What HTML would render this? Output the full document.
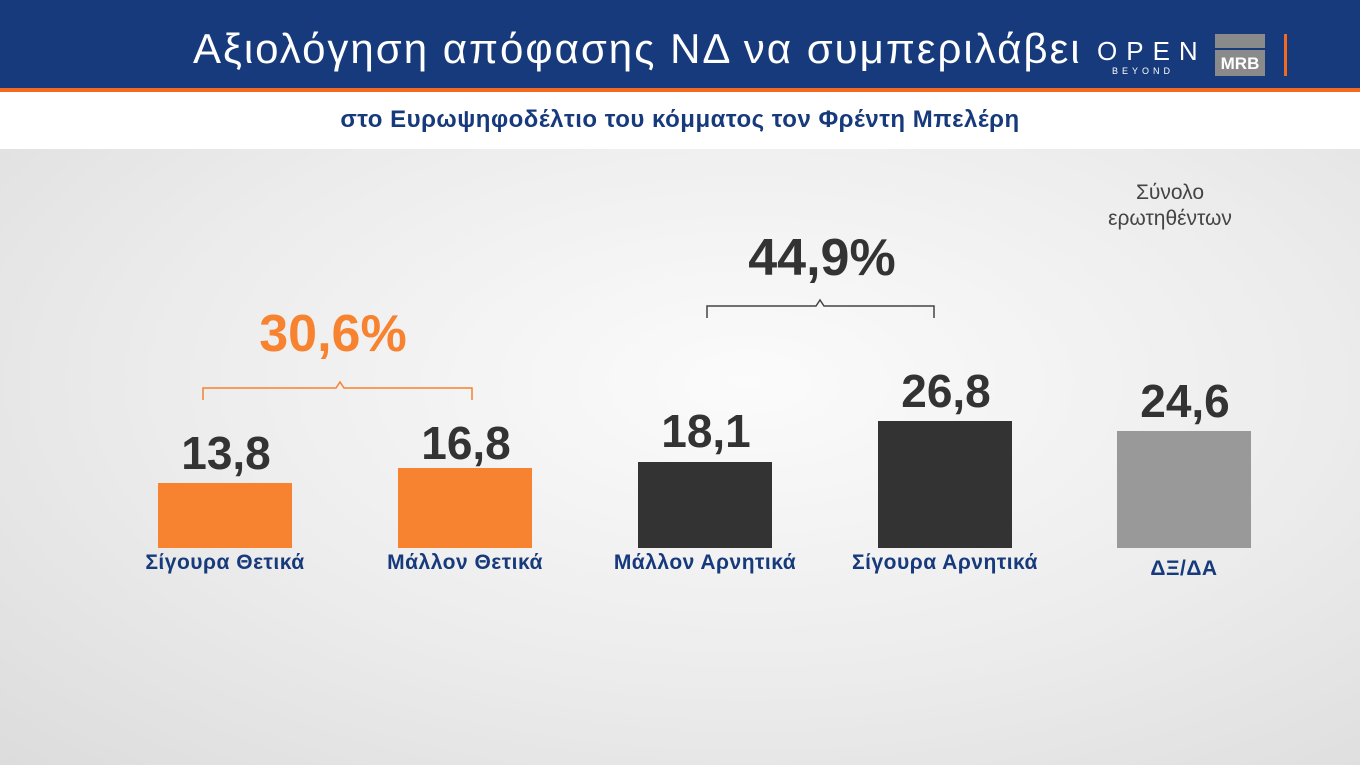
<!DOCTYPE html>
<html><head><meta charset="utf-8"><style>
*{margin:0;padding:0;box-sizing:border-box}
body{width:1360px;height:765px;overflow:hidden;position:relative;font-family:"Liberation Sans","DejaVu Sans",sans-serif;background:radial-gradient(ellipse at 55% 50%,#fbfbfb 0%,#ececec 55%,#dcdcdc 100%)}
.hdr{position:absolute;left:0;top:0;width:1360px;height:88px;background:#173a7c}
.or{position:absolute;left:0;top:88px;width:1360px;height:4px;background:#f26a22}
.sub{position:absolute;left:0;top:92px;width:1360px;height:57px;background:#fff;text-align:center;color:#173a7c;font-weight:bold;font-size:24px;letter-spacing:0.5px;line-height:55px}
.t{position:absolute;color:#fff;font-size:42px;letter-spacing:2px;left:193px;top:25px;white-space:nowrap}
.abs{position:absolute}
.bar{position:absolute}
.val{position:absolute;font-weight:bold;font-size:46px;color:#333;text-align:center;width:200px}
.lab{position:absolute;font-weight:bold;font-size:21px;letter-spacing:0.5px;color:#173a7c;text-align:center;width:260px}
</style></head><body>
<div class="hdr"></div><div class="or"></div>
<div class="t">Αξιολόγηση απόφασης ΝΔ να συμπεριλάβει</div>
<div class="abs" style="left:1097px;top:36px;color:#fff;font-size:26px;letter-spacing:9px">OPEN</div>
<div class="abs" style="left:1112px;top:66px;color:#fff;font-size:9px;letter-spacing:4px">BEYOND</div>
<div class="abs" style="left:1215px;top:34px;width:50px;height:14px;background:#8a8a8a"></div>
<div class="abs" style="left:1215px;top:50px;width:50px;height:26px;background:#8a8a8a;color:#fff;font-weight:bold;font-size:17px;text-align:center;line-height:27px">MRB</div>
<div class="abs" style="left:1284px;top:34px;width:3px;height:42px;background:#f26a22"></div>
<div class="sub">στο Ευρωψηφοδέλτιο του κόμματος τον Φρέντη Μπελέρη</div>

<div class="abs" style="left:1100px;top:180px;width:140px;text-align:center;color:#444;font-size:21px;line-height:26px">Σύνολο<br>ερωτηθέντων</div>

<div class="abs" style="left:213px;top:304px;width:240px;text-align:center;color:#f7822f;font-weight:bold;font-size:52px">30,6%</div>
<svg class="abs" style="left:0;top:0" width="1360" height="765"><path d="M203 400 V388 H336 l4 -6 l4 6 H472 V400" fill="none" stroke="#f7822f" stroke-width="1.5"/><path d="M707 318 V306 H816 l4 -6 l4 6 H934 V318" fill="none" stroke="#444" stroke-width="1.5"/></svg>
<div class="abs" style="left:702px;top:228px;width:240px;text-align:center;color:#333;font-weight:bold;font-size:52px">44,9%</div>

<div class="bar" style="left:158px;top:483px;width:134px;height:65px;background:#f7822f"></div>
<div class="bar" style="left:398px;top:468px;width:134px;height:80px;background:#f7822f"></div>
<div class="bar" style="left:638px;top:462px;width:134px;height:86px;background:#333"></div>
<div class="bar" style="left:878px;top:421px;width:134px;height:127px;background:#333"></div>
<div class="bar" style="left:1117px;top:431px;width:134px;height:117px;background:#999"></div>

<div class="val" style="left:126px;top:426px">13,8</div>
<div class="val" style="left:366px;top:416px">16,8</div>
<div class="val" style="left:606px;top:404px">18,1</div>
<div class="val" style="left:846px;top:364px">26,8</div>
<div class="val" style="left:1085px;top:374px">24,6</div>

<div class="lab" style="left:95px;top:551px">Σίγουρα Θετικά</div>
<div class="lab" style="left:335px;top:551px">Μάλλον Θετικά</div>
<div class="lab" style="left:575px;top:551px">Μάλλον Αρνητικά</div>
<div class="lab" style="left:815px;top:551px">Σίγουρα Αρνητικά</div>
<div class="lab" style="left:1054px;top:557px">ΔΞ/ΔΑ</div>
</body></html>
